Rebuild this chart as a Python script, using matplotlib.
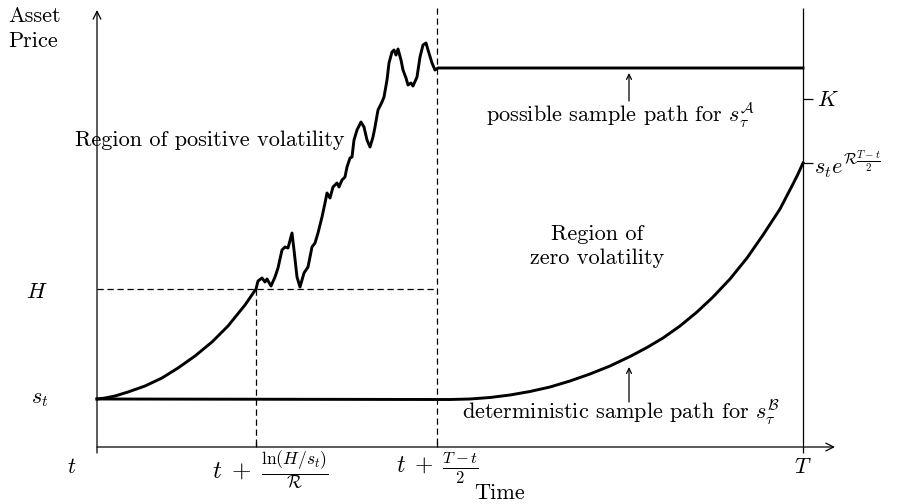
"""Schematic: asset price paths in zero / positive volatility regions."""

import matplotlib
matplotlib.use('Agg')
import matplotlib.pyplot as plt

plt.rcParams['font.family'] = ['cmr10', 'DejaVu Serif']
plt.rcParams['mathtext.fontset'] = 'cm'
plt.rcParams['axes.unicode_minus'] = False

# diagram coordinates (x right, y down, in pixels)
X_T0, X_HIT, X_MID, X_T = 97, 256, 437, 803
Y_AXIS, Y_ST, Y_H, Y_K, Y_SB, Y_SA = 447, 399, 289, 99, 163, 68

# path A: deterministic growth up to H, then a volatile leg, then flat
grow_x = [97, 105, 115, 128, 145, 162, 178, 195, 212, 228, 245, 256]
grow_y = [399, 398, 396, 392, 386, 378, 368, 356, 342, 326, 305, 289]
noisy_x = [258, 262, 265, 267, 271, 275, 278, 282, 285, 288, 292, 294, 297,
           300, 304, 308, 312, 315, 318, 322, 325, 327, 330, 333, 337, 339,
           342, 345, 347, 350, 352, 354, 357, 361, 364, 367, 370, 373, 375,
           378, 382, 384, 387, 389, 392, 394, 396, 398, 401, 403, 406, 408,
           411, 413, 417, 420, 423, 426, 428, 432, 435, 438]
noisy_y = [281, 278, 282, 279, 286, 277, 268, 250, 247, 248, 233, 250, 277,
           287, 273, 267, 247, 243, 233, 217, 203, 193, 198, 187, 183, 187,
           180, 177, 167, 158, 157, 140, 130, 122, 127, 140, 147, 137, 127,
           110, 102, 97, 80, 63, 52, 50, 55, 49, 60, 70, 78, 85,
           83, 86, 77, 57, 45, 43, 50, 63, 70, 68]
flat_a_x = [803]
flat_a_y = [68]

# path B: flat until the midpoint, then deterministic growth to T
path_b_x = [97, 437, 450, 470, 490, 510, 530, 550, 570, 590, 610, 630,
            647, 663, 680, 697, 713, 730, 747, 763, 780, 793, 798, 803]
path_b_y = [399, 399.5, 399.5, 399, 397.5, 395, 391.5, 387, 381, 374, 366,
            356.5, 347.5, 338, 326, 312, 297, 279, 258, 235, 209, 184, 174,
            163]

fig = plt.figure(figsize=(9.0, 5.04), dpi=100)
ax = fig.add_axes([0, 0, 1, 1])
ax.set_xlim(0, 900)
ax.set_ylim(504, 0)
ax.axis('off')

k = dict(color='black', solid_capstyle='butt')
thin = 0.9
thick = 2.1
dash = dict(color='black', linewidth=0.9, linestyle=(0, (5, 3)))

# axes with arrow heads
ax.annotate('', xy=(X_T0, 10), xytext=(X_T0, 453),
            arrowprops=dict(arrowstyle='->', lw=thin, color='black',
                            shrinkA=0, shrinkB=0, mutation_scale=14))
ax.annotate('', xy=(835, Y_AXIS), xytext=(X_T0, Y_AXIS),
            arrowprops=dict(arrowstyle='->', lw=thin, color='black',
                            shrinkA=0, shrinkB=0, mutation_scale=14))
ax.plot([X_T, X_T], [8, 453], lw=thin, **k)
ax.plot([X_HIT, X_HIT], [Y_AXIS, Y_AXIS - 5], lw=thin, **k)
ax.plot([X_MID, X_MID], [Y_AXIS, Y_AXIS - 5], lw=thin, **k)
ax.plot([X_T, X_T + 10], [Y_K, Y_K], lw=thin, **k)
ax.plot([X_T, X_T + 10], [Y_SB, Y_SB], lw=thin, **k)

# dashed guides
ax.plot([X_T0, X_MID], [Y_H, Y_H], **dash)
ax.plot([X_HIT, X_HIT], [Y_H, Y_AXIS], **dash)
ax.plot([X_MID, X_MID], [8, Y_AXIS], **dash)

# sample paths
ax.plot(path_b_x, path_b_y, lw=thick, color='black',
        solid_joinstyle='round')
ax.plot(grow_x + noisy_x + flat_a_x, grow_y + noisy_y + flat_a_y,
        lw=thick, color='black', solid_joinstyle='round')

# pointer arrows
ax.annotate('', xy=(629, 73), xytext=(629, 101),
            arrowprops=dict(arrowstyle='->', lw=0.9, color='black',
                            shrinkA=0, shrinkB=0, mutation_scale=9))
ax.annotate('', xy=(629, 367), xytext=(629, 402),
            arrowprops=dict(arrowstyle='->', lw=0.9, color='black',
                            shrinkA=0, shrinkB=0, mutation_scale=9))

fs = 16
ax.text(8, 16, 'Asset', fontsize=fs, ha='left', va='center')
ax.text(8, 41, 'Price', fontsize=fs, ha='left', va='center')
ax.text(75, 140, 'Region of positive volatility', fontsize=fs,
        ha='left', va='center')
ax.text(597, 246, 'Region of\nzero volatility', fontsize=fs,
        ha='center', va='center', linespacing=1.3)
ax.text(621, 115, r'possible sample path for $s_\tau^{\mathcal{A}}$',
        fontsize=fs, ha='center', va='center')
ax.text(621, 412, r'deterministic sample path for $s_\tau^{\mathcal{B}}$',
        fontsize=fs, ha='center', va='center')

ax.text(37, 292, r'$H$', fontsize=fs, ha='center', va='center')
ax.text(40, 399, r'$s_t$', fontsize=fs, ha='center', va='center')
ax.text(817, 100, r'$K$', fontsize=fs, ha='left', va='center')
ax.text(814, 165, r'$s_t e^{\mathcal{R}\frac{T-t}{2}}$', fontsize=fs,
        ha='left', va='center')

ax.text(72, 467, r'$t$', fontsize=fs, ha='center', va='center')
ax.text(270, 470, r'$t\;+\;\frac{\ln(H/s_t)}{\mathcal{R}}$', fontsize=18,
        ha='center', va='center')
ax.text(437, 468, r'$t\;+\;\frac{T-t}{2}$', fontsize=17,
        ha='center', va='center')
ax.text(803, 467, r'$T$', fontsize=fs, ha='center', va='center')
ax.text(500, 493, 'Time', fontsize=fs, ha='center', va='center')

fig.savefig('out.png', dpi=100)
